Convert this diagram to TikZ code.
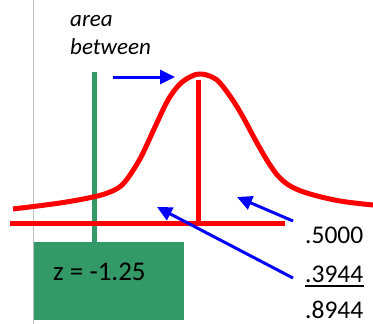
\documentclass[tikz,border=0pt]{standalone}
\usepackage{fontspec}
\setmainfont{Carlito}
\usetikzlibrary{arrows.meta,positioning}
\definecolor{boxgreen}{RGB}{51,153,102}
\definecolor{rulegray}{RGB}{191,191,191}

\begin{document}
\begin{tikzpicture}[x=1pt,y=-1pt,
  curve/.style={draw=red,line width=5pt},
  pointer/.style={blue,line width=3pt,-{Triangle[length=15pt,width=14pt]}},
  note/.style={inner sep=0pt,anchor=base west,font=\fontsize{23}{28}\selectfont\itshape},
  value/.style={inner sep=0pt,anchor=base west,font=\fontsize{25.5}{30}\selectfont}]
\useasboundingbox (0,0) rectangle (373,324);
\draw[rulegray,line width=1.5pt] (33.5,0) -- (33.5,324);
% z marker and its box
\draw[boxgreen,line width=5pt] (94,72) -- (94,242);
\fill[boxgreen] (34,242) rectangle (184,320);
\node[value,font=\fontsize{27}{32}\selectfont] (z) at (53,280) {z = -1.25};
% normal curve, mean and axis
\draw[curve,line join=round] plot[smooth,tension=0.6] coordinates {
  (13,209) (60,203) (93,197) (110,192) (122,185) (132,172) (142,155)
  (155,127) (168,100) (180,84) (192,76) (201,74) (212,77) (220,83)
  (232,99) (243,117) (257,143) (270,165) (280,178) (292,187) (310,194)
  (340,201) (373,205)};
\draw[curve] (198,80) -- (198,223);
\draw[curve] (10,223) -- (285,223);
% labels
\node[note] (area) at (70,27) {area};
\node[note] (between) at (70,55) {between};
\node[value] (half) at (305,243) {.5000};
\node[value] (part) at (305,282) {.3944};
\node[value] (sum) at (305,318.5) {.8944};
\draw[line width=1.8pt] ([yshift=-4pt]part.base west) -- ([yshift=-4pt]part.base east);
% pointers
\coordinate (top-from) at (113,77);
\coordinate (top-to) at (175,77);
\coordinate (half-from) at (293,221);
\coordinate (half-to) at (237,197);
\coordinate (part-from) at (293,278);
\coordinate (part-to) at (157,207);
\path[pointer]
(top-from) edge (top-to)
(half-from) edge (half-to)
(part-from) edge (part-to)
;
\end{tikzpicture}
\end{document}
